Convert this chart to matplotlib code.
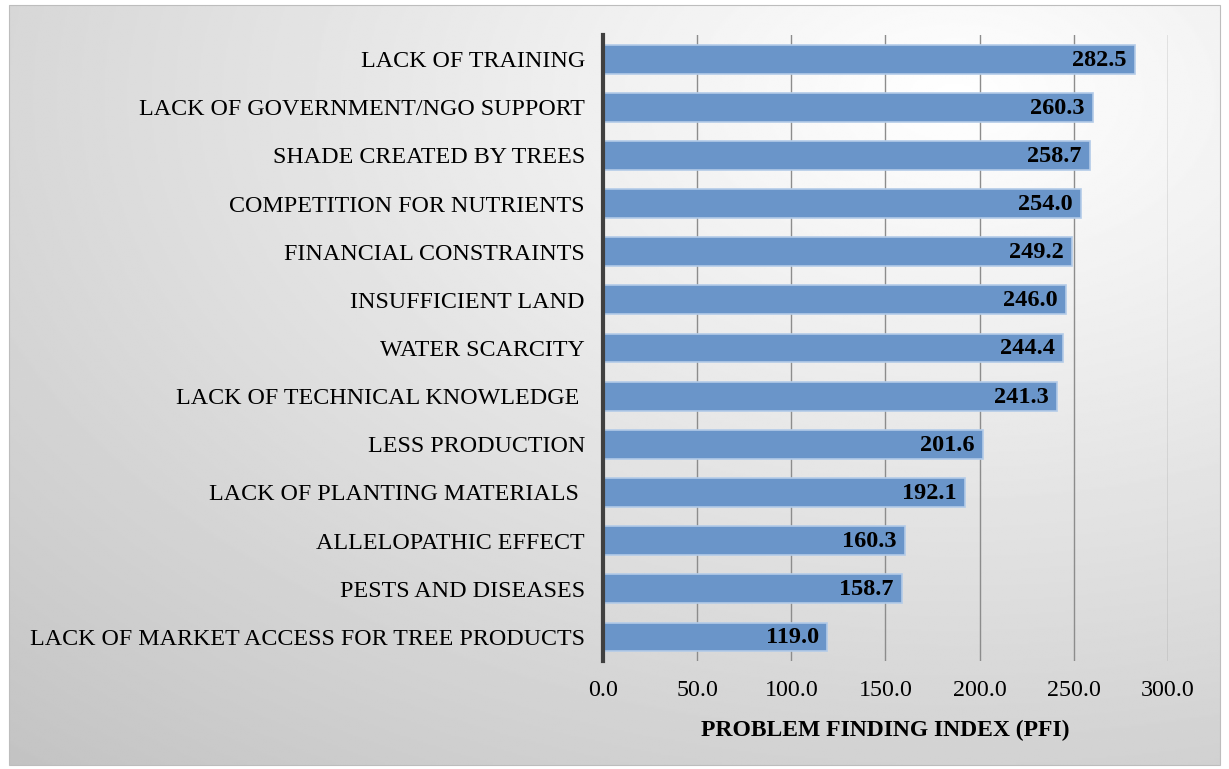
import numpy as np
import matplotlib.pyplot as plt

problems = [
    "LACK OF TRAINING",
    "LACK OF GOVERNMENT/NGO SUPPORT",
    "SHADE CREATED BY TREES",
    "COMPETITION FOR NUTRIENTS",
    "FINANCIAL CONSTRAINTS",
    "INSUFFICIENT LAND",
    "WATER SCARCITY",
    "LACK OF TECHNICAL KNOWLEDGE ",
    "LESS PRODUCTION",
    "LACK OF PLANTING MATERIALS ",
    "ALLELOPATHIC EFFECT",
    "PESTS AND DISEASES",
    "LACK OF MARKET ACCESS FOR TREE PRODUCTS",
]
pfi = [282.5, 260.3, 258.7, 254.0, 249.2, 246.0, 244.4, 241.3, 201.6, 192.1, 160.3, 158.7, 119.0]
xticks = [0, 50, 100, 150, 200, 250, 300]

plt.rcParams['font.family'] = ['Liberation Serif', 'DejaVu Serif']

fig = plt.figure(figsize=(12.29, 7.69), dpi=100)

# grey radial backdrop behind the whole chart
bg = fig.add_axes([0.007, 0.005, 0.986, 0.988])
h, w = 400, 640
yy, xx = np.mgrid[0:h, 0:w]
cx, cy = 0.78 * w, 0.12 * h
r = np.sqrt(((xx - cx) / w) ** 2 + ((yy - cy) / h) ** 2)
shade = np.clip(1.0 - 0.2 * r, 0.76, 1.0)
bg.imshow(shade, cmap='gray', vmin=0, vmax=1, aspect='auto', extent=[0, 1, 0, 1])
bg.set_axis_off()
fig.patches.append(plt.Rectangle((0.007, 0.005), 0.986, 0.988, transform=fig.transFigure,
                                 fill=False, edgecolor='#bdbdbd', linewidth=0.8))

ax = fig.add_axes([0.4906, 0.1404, 0.4598, 0.8141])
ax.patch.set_alpha(0)
y = np.arange(len(problems))[::-1]
ax.barh(y, pfi, height=0.6, color='#6a95c9', edgecolor='#b3cbe8', linewidth=1.2, zorder=3)
for yi, v in zip(y, pfi):
    ax.text(v - 4.5, yi - 0.02, f"{v:.1f}", ha='right', va='center',
            fontsize=17.5, fontweight='bold', color='black', zorder=4)

ax.set_xlim(0, 300)
ax.set_ylim(-0.5, len(problems) - 0.5)
ax.set_xticks(xticks)
ax.set_xticklabels([f"{t:.1f}" for t in xticks], fontsize=17.3)
ax.set_yticks(y)
ax.set_yticklabels(problems, fontsize=17.3)
ax.tick_params(axis='both', length=0)
ax.tick_params(axis='y', pad=13)
ax.tick_params(axis='x', pad=14)
ax.grid(axis='x', color='#8c8c8c', linewidth=1.0, zorder=0)
ax.set_axisbelow(True)
for side in ['top', 'right', 'bottom']:
    ax.spines[side].set_visible(False)
ax.spines['left'].set_color('#404040')
ax.spines['left'].set_linewidth(3)
ax.spines['left'].set_zorder(5)
ax.set_xlabel("PROBLEM FINDING INDEX (PFI)", fontsize=17, fontweight='bold', labelpad=13)

fig.savefig("out.png", dpi=100)
